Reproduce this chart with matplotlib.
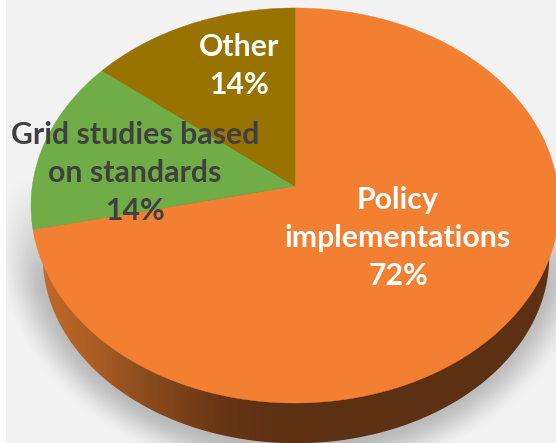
import numpy as np
import matplotlib
matplotlib.use('Agg')
import matplotlib.pyplot as plt
from matplotlib.patches import Polygon
from matplotlib.colors import LinearSegmentedColormap

# slices, clockwise from 12 o'clock
labels = ['Policy\nimplementations\n72%', 'Grid studies based\non standards\n14%', 'Other\n14%']
values = [71.5, 14.25, 14.25]
colors = ['#f37f33', '#70ad47', '#997300']
label_colors = ['white', '#404040', 'white']
label_pos = [(398, 238), (135, 173), (239, 66)]

W, H = 556, 443
apex = (295, 186)
c = 0.0987
a = 195.6
s = 262.7


def project(theta, x0=apex[0], y0=apex[1], sx=s, sy=a):
    # tilted disc with a bit of perspective, theta clockwise from top
    u = np.sin(theta)
    v = np.cos(theta)
    d = 1 + c * v
    return x0 + sx * u / d, y0 - sy * v / d


fig = plt.figure(figsize=(W / 100, H / 100), dpi=100, facecolor='white')
ax = fig.add_axes([0, 0, 1, 1])
ax.axis('off')

# grey panel with the soft shadow around the lower rim baked in
xx, yy = np.meshgrid(np.arange(6, W) + 0.5, np.arange(H) + 0.5)
dist = np.sqrt(((xx - 295) / 252.0) ** 2 + ((yy - 238) / 205.0) ** 2)
shade = np.clip((1.2 - dist) / 0.2, 0, 1)
shade = shade * shade * (3 - 2 * shade)
shade = shade * np.clip((yy - 175) / 110, 0, 1)
panel = 0.949 * (1 - shade) + 0.72 * shade
ax.imshow(panel, extent=(6, W, H, 0), cmap='gray', vmin=0, vmax=1, aspect='auto', zorder=1)
ax.set_xlim(0, W)
ax.set_ylim(H, 0)

# side wall: lower rim, narrower than the top face, gradient left to middle
t_all = np.linspace(0, 2 * np.pi, 361)
rx, ry = project(t_all, 296, 238, 252, 185)
wall = Polygon(np.column_stack([rx, ry]), fc='none', ec='none', transform=ax.transData)
ax.add_patch(wall)
wall_cmap = LinearSegmentedColormap.from_list('wall', [(0, '#c06a2c'), (0.12, '#a55a22'),
                                                       (0.21, '#884a1c'), (0.35, '#673514'),
                                                       (0.46, '#5c3013'), (1, '#5c3013')])
for x in range(40, W, 2):
    strip = ax.axvspan(x, x + 2, color=wall_cmap((x - 40) / 516.0), lw=0, antialiased=False, zorder=2)
    strip.set_clip_path(wall)

# top face
start = 0.0
total = float(sum(values))
for val, col in zip(values, colors):
    stop = start + val / total * 2 * np.pi
    t = np.linspace(start, stop, 200)
    px, py = project(t)
    pts = np.vstack([[apex], np.column_stack([px, py])])
    ax.add_patch(Polygon(pts, fc=col, ec=col, lw=0.3, zorder=3))
    start = stop

for lab, col, pos in zip(labels, label_colors, label_pos):
    ax.text(pos[0], pos[1], lab, color=col, ha='center', va='center', family='Lato',
            fontweight='bold', fontsize=21.8, linespacing=1.45, zorder=4)

plt.savefig('out.png', dpi=100)
